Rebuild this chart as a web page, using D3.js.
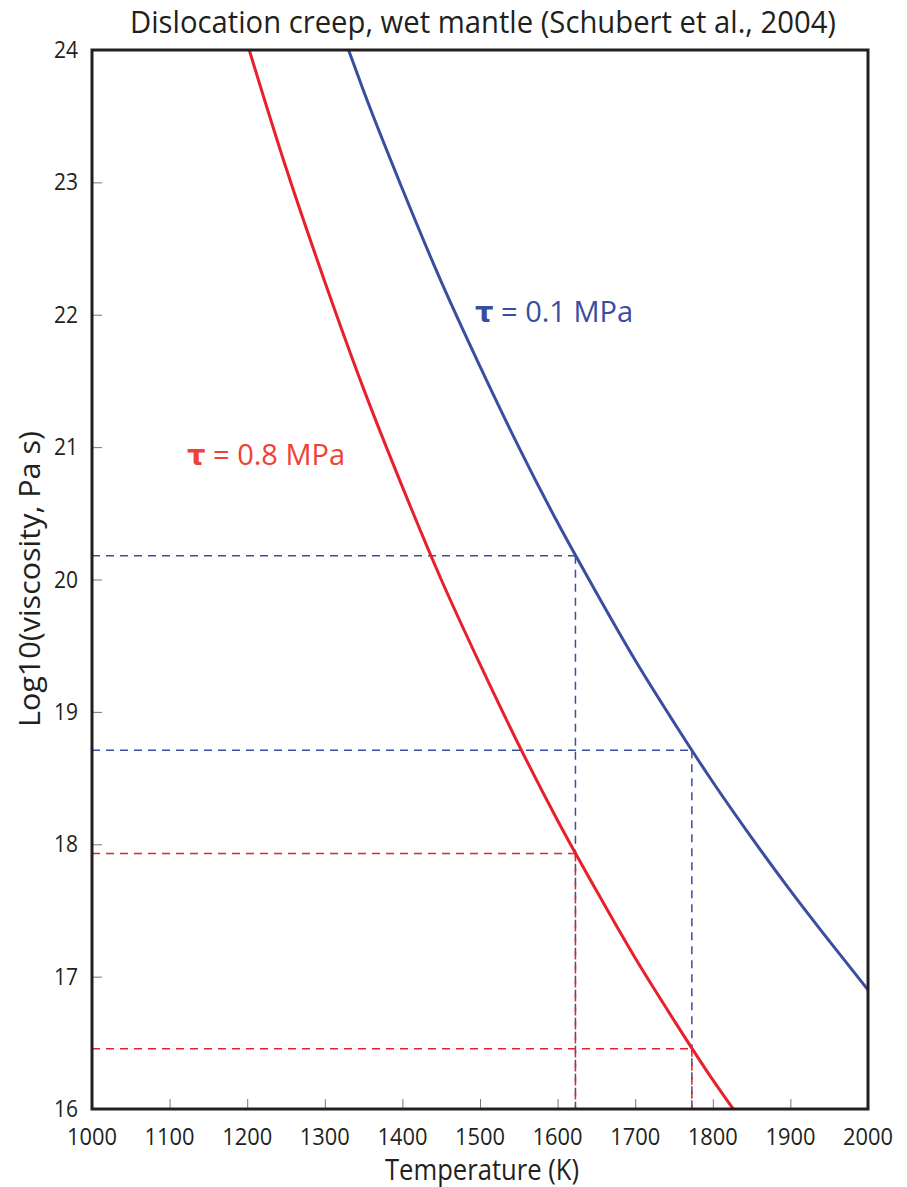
<!DOCTYPE html>
<html>
<head>
<meta charset="utf-8">
<script src="https://cdn.jsdelivr.net/npm/d3@7"></script>
<style>
	body { margin: 0; background: #fff; }
	text { font-family: "Open Sans", sans-serif; fill: #231f20; }
</style>
</head>
<body>
<div id="chart"></div>
<script>
// temperatures (K) and log10 viscosity
var temps_blue  = [1330, 1350, 1400, 1450, 1500, 1550, 1600, 1650, 1700, 1750, 1800, 1850, 1900, 1950, 2000];
var visc_blue   = [24.01, 23.69, 22.95, 22.25, 21.61, 21.00, 20.43, 19.90, 19.39, 18.92, 18.47, 18.05, 17.65, 17.27, 16.90];
var temps_red   = [1200, 1250, 1300, 1350, 1400, 1450, 1500, 1550, 1600, 1650, 1700, 1750, 1800, 1830];
var visc_red    = [24.05, 23.11, 22.25, 21.44, 20.70, 20.00, 19.36, 18.75, 18.18, 17.65, 17.14, 16.67, 16.22, 15.97];

// reference temperatures and where they meet each curve
var ref_temps   = [1623, 1773];
var ref_blue    = [20.18, 18.71];
var ref_red     = [17.93, 16.455];

var x_ticks     = [1000, 1100, 1200, 1300, 1400, 1500, 1600, 1700, 1800, 1900, 2000];
var y_ticks     = [16, 17, 18, 19, 20, 21, 22, 23, 24];

var chart_width  = 907;
var chart_height = 1187;
var margin = { left: 92, top: 50, right: 39, bottom: 78 };
var plot_w = chart_width - margin.left - margin.right;
var plot_h = chart_height - margin.top - margin.bottom;

var blue = '#3a4ea0';
var red  = '#e8202a';

var svg = d3.select('#chart')
	.append('svg')
	.attr('width', chart_width)
	.attr('height', chart_height);

var x_scale = d3.scaleLinear().domain([1000, 2000]).range([margin.left, margin.left + plot_w]);
var y_scale = d3.scaleLinear().domain([16, 24]).range([margin.top + plot_h, margin.top]);

svg.append('clipPath').attr('id', 'clip')
	.append('rect')
	.attr('x', margin.left).attr('y', margin.top)
	.attr('width', plot_w).attr('height', plot_h);

// ticks (inside the frame)
svg.append('g')
	.attr('transform', 'translate(0,' + (margin.top + plot_h) + ')')
	.call(d3.axisTop(x_scale).tickValues(x_ticks).tickSize(10).tickFormat(''))
	.call(function(g){ g.select('.domain').remove(); g.selectAll('line').attr('stroke', '#777').attr('stroke-width', 1); });

svg.append('g')
	.attr('transform', 'translate(' + margin.left + ',0)')
	.call(d3.axisRight(y_scale).tickValues(y_ticks).tickSize(10).tickFormat(''))
	.call(function(g){ g.select('.domain').remove(); g.selectAll('line').attr('stroke', '#777').attr('stroke-width', 1); });

// tick labels (narrowed to look like the condensed original)
svg.selectAll('.xlab')
	.data(x_ticks)
	.enter()
	.append('text')
	.attr('class', 'xlab')
	.attr('x', function(d){ return x_scale(d); })
	.attr('y', margin.top + plot_h + 36)
	.attr('text-anchor', 'middle')
	.attr('font-size', 23)
	.attr('textLength', 50)
	.attr('lengthAdjust', 'spacingAndGlyphs')
	.text(function(d){ return d; });

svg.selectAll('.ylab')
	.data(y_ticks)
	.enter()
	.append('text')
	.attr('class', 'ylab')
	.attr('x', margin.left - 14)
	.attr('y', function(d){ return y_scale(d) + 8; })
	.attr('text-anchor', 'end')
	.attr('font-size', 23)
	.attr('textLength', 24)
	.attr('lengthAdjust', 'spacingAndGlyphs')
	.text(function(d){ return d; });

// dashed guide lines
var guides = svg.append('g')
	.attr('stroke-width', 1.5)
	.attr('stroke-dasharray', '8,6')
	.attr('fill', 'none');

ref_temps.forEach(function(t, i){
	guides.append('line')
		.attr('x1', x_scale(1000)).attr('x2', x_scale(t))
		.attr('y1', y_scale(ref_blue[i])).attr('y2', y_scale(ref_blue[i]))
		.attr('stroke', blue);
	guides.append('line')
		.attr('x1', x_scale(t)).attr('x2', x_scale(t))
		.attr('y1', y_scale(ref_blue[i])).attr('y2', y_scale(16))
		.attr('stroke', blue);
	guides.append('line')
		.attr('x1', x_scale(1000)).attr('x2', x_scale(t))
		.attr('y1', y_scale(ref_red[i])).attr('y2', y_scale(ref_red[i]))
		.attr('stroke', red);
	guides.append('line')
		.attr('x1', x_scale(t)).attr('x2', x_scale(t))
		.attr('y1', y_scale(ref_red[i])).attr('y2', y_scale(16))
		.attr('stroke', red);
});

// curves
var line = d3.line()
	.x(function(d){ return x_scale(d[0]); })
	.y(function(d){ return y_scale(d[1]); })
	.curve(d3.curveMonotoneX);

svg.append('path')
	.datum(d3.zip(temps_blue, visc_blue))
	.attr('clip-path', 'url(#clip)')
	.attr('d', line)
	.attr('fill', 'none')
	.attr('stroke', blue)
	.attr('stroke-width', 3);

svg.append('path')
	.datum(d3.zip(temps_red, visc_red))
	.attr('clip-path', 'url(#clip)')
	.attr('d', line)
	.attr('fill', 'none')
	.attr('stroke', red)
	.attr('stroke-width', 3);

// frame
svg.append('rect')
	.attr('x', margin.left).attr('y', margin.top)
	.attr('width', plot_w).attr('height', plot_h)
	.attr('fill', 'none')
	.attr('stroke', '#231f20')
	.attr('stroke-width', 3);

// curve labels
svg.append('text')
	.attr('x', 475).attr('y', 322)
	.attr('font-size', 29)
	.style('fill', blue)
	.html('<tspan font-family="DejaVu Sans" font-weight="bold">τ</tspan> = 0.1 MPa');

svg.append('text')
	.attr('x', 187).attr('y', 465)
	.attr('font-size', 29)
	.style('fill', '#ef4136')
	.html('<tspan font-family="DejaVu Sans" font-weight="bold">τ</tspan> = 0.8 MPa');

// titles
svg.append('text')
	.attr('x', 483).attr('y', 33)
	.attr('text-anchor', 'middle')
	.attr('font-size', 31)
	.attr('textLength', 706)
	.attr('lengthAdjust', 'spacingAndGlyphs')
	.text('Dislocation creep, wet mantle (Schubert et al., 2004)');

svg.append('text')
	.attr('x', 482).attr('y', 1180)
	.attr('text-anchor', 'middle')
	.attr('font-size', 29)
	.attr('textLength', 194)
	.attr('lengthAdjust', 'spacingAndGlyphs')
	.text('Temperature (K)');

svg.append('text')
	.attr('transform', 'translate(40,579) rotate(-90)')
	.attr('text-anchor', 'middle')
	.attr('font-size', 29)
	.attr('textLength', 296)
	.attr('lengthAdjust', 'spacingAndGlyphs')
	.text('Log10(viscosity, Pa s)');
</script>
</body>
</html>
